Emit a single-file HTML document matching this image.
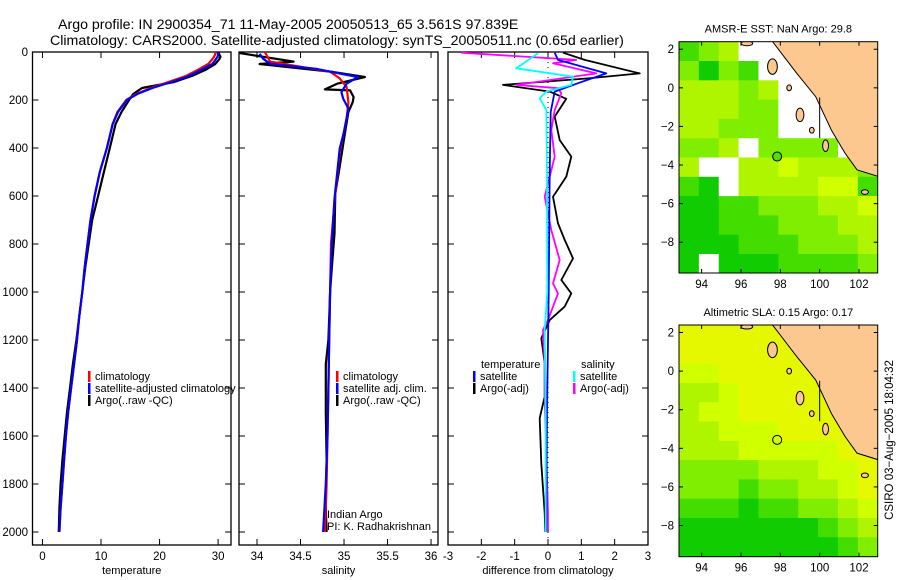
<!DOCTYPE html>
<html><head><meta charset="utf-8"><style>
html,body{margin:0;padding:0;background:#fff;}
svg{display:block;font-family:"Liberation Sans",sans-serif;}
</style></head><body>
<svg id="chart" width="900" height="580" viewBox="0 0 900 580" xmlns="http://www.w3.org/2000/svg">
<text x="58" y="29" font-size="14.2">Argo profile: IN 2900354_71 11-May-2005 20050513_65 3.561S 97.839E</text>
<text x="50" y="45" font-size="14.2">Climatology: CARS2000. Satellite-adjusted climatology: synTS_20050511.nc (0.65d earlier)</text>
<g id="g"></g>
</svg>
<script>
// ---- temperature panel data ----
const tDepth=[0,10,20,30,50,75,100,125,150,175,200,250,300,400,500,600,700,800,900,1000,1100,1200,1300,1400,1500,1600,1700,1800,1900,2000];
const tClim=[29.5,29.5,29.3,29,28.3,26.5,24.5,21.5,18.5,16,14.3,12.8,12,11,9.8,8.9,8.2,7.7,7.2,6.8,6.3,5.9,5.4,4.9,4.4,4,3.7,3.4,3.1,2.9];
const tSat=[29.9,30,29.9,29.6,29,27,25,22,18.8,16.2,14.4,12.9,12,11,9.8,8.9,8.2,7.7,7.2,6.8,6.3,5.9,5.4,4.9,4.4,4,3.7,3.4,3.1,2.9];
const tArgo=[30,30.2,30.4,30.2,29.5,27.8,25.5,22.5,17,15.5,14.8,13.5,12.5,11.5,10.5,9.5,8.5,7.9,7.3,6.8,6.3,5.8,5.2,4.7,4.2,3.8,3.4,3.1,2.9,2.8];
// ---- salinity panel data ----
const sClimDepth=[0,40,61,82,110,146,209,278,417,625,800,1000,1200,1400,1600,1800,2000];
const sClim=[34.09,34.15,34.49,34.84,34.95,35.03,35.05,35.03,34.95,34.89,34.85,34.84,34.83,34.82,34.81,34.8,34.78];
const sSatDepth=[7,28,49,70,90,104,132,167,194,236,333,403,611,800,1000,1200,1400,1600,1800,2000];
const sSat=[34.03,34.07,34.15,34.68,34.95,35.16,35.03,34.97,34.99,35.05,35.0,34.95,34.89,34.86,34.84,34.83,34.82,34.81,34.79,34.76];
const sArgoDepth=[0,5,40,50,83,104,132,156,160,188,209,250,339,478,589,756,900,1000,1200,1300,1500,1700,1900,2000];
const sArgo=[33.8,33.81,34.42,34.03,34.87,35.24,34.92,34.78,35.07,35.11,35.1,35.05,35.01,34.95,34.9,34.89,34.86,34.84,34.82,34.79,34.79,34.8,34.79,34.8];
// ---- difference panel data ----
const dTArgoDepth=[3,33,89,110,137,165,195,269,367,436,519,603,714,783,860,950,1006,1061,1117,1193,1297,1436,1526,1714,1922,2000];
const dTArgo=[0.45,1.1,2.75,1.2,-1.35,0.05,0.55,0.2,0.35,0.7,0.55,0.15,0.3,0.5,0.75,0.4,0.7,0.5,0.05,-0.2,-0.1,-0.1,-0.25,-0.2,-0.1,-0.08];
const dTSatDepth=[3,33,89,130,165,250,500,1000,1500,2000];
const dTSat=[0.2,0.3,1.75,0.9,0.2,0.08,0.05,0.02,-0.03,-0.05];
const dSSatDepth=[5,68,103,137,165,193,242,500,1000,1158,1500,2000];
const dSSat=[-0.3,-0.95,0.75,0.7,-0.05,-0.25,-0.05,-0.03,-0.02,-0.1,-0.07,-0.07];
const dSArgoDepth=[3,33,47,89,137,151,172,242,325,436,603,742,867,964,1006,1117,1158,1297,1436,1922,2000];
const dSArgo=[-2.6,0.85,0.15,1.45,-0.95,0.3,0.4,0.2,0.1,0.2,-0.1,0.1,0.35,0.15,0.3,0.0,-0.15,-0.1,-0.1,0.0,0.0];
// ---- maps (1-degree cells, rows from lat 2.4 down, cols from lon 92.85) 0 = no data ----
const sstGrid=["2340000000","3132000000","4443400000","4443300000","4433300000","3340333300","4004454443","2104444552","1122333445","1122233344","1112223334","1011122223"];
const slaGrid=["6666665433","6666666543","5566666543","4456666654","4556666665","4455566666","4445555566","3333444556","3332334456","2221223345","1111111234","1111111123"];
const palette=["#ffffff","#10cc00","#44dd00","#80ee00","#b0f500","#d0ff00","#e6f800"];
const landLon=[97.6,98.2,98.8,99.8,100.6,101.3,101.9,103,103];
const landLat=[2.4,1.6,0.8,-0.46,-2.2,-3.4,-4.25,-4.6,2.4];
const isles=[[96.3,2.3,0.3,0.12],[97.6,1.1,0.25,0.4],[98.45,0.0,0.12,0.15],[99.0,-1.4,0.2,0.35],[99.6,-2.2,0.12,0.15],[100.3,-3.0,0.15,0.3],[102.3,-5.4,0.18,0.12]];
const lonTicks=[94,96,98,100,102];
const latTicks=[2,0,-2,-4,-6,-8];

const NS="http://www.w3.org/2000/svg";
const G=document.getElementById('g');
function mk(tag,a,p){const e=document.createElementNS(NS,tag);for(const k in a)e.setAttribute(k,a[k]);(p||G).appendChild(e);return e;}

const yTop=52, yPx=0.24;
const yS=d=>yTop+d*yPx;
function panel(x0,x1,xmin,xmax,ticks,labelFmt,xlabel,name,showY){
  const xs=v=>x0+(v-xmin)/(xmax-xmin)*(x1-x0);
  const r=mk('rect',{x:x0,y:52,width:x1-x0,height:493,fill:'none',stroke:'#000','stroke-width':1.3});
  
  
  ticks.forEach(v=>{
    const X=xs(v);
    const t1=mk('line',{x1:X,y1:545,x2:X,y2:539,stroke:'#000'});
    
    
    const t2=mk('line',{x1:X,y1:52,x2:X,y2:58,stroke:'#000'});
    
    
    const tl=mk('text',{x:X,y:560,'font-size':11.5,'text-anchor':'middle'});
    tl.textContent=labelFmt(v);
    
    
  });
  for(let d=0;d<=2000;d+=200){
    const Y=yS(d);
    const a=mk('line',{x1:x0,y1:Y,x2:x0+6,y2:Y,stroke:'#000'});
    
    
    const b=mk('line',{x1:x1,y1:Y,x2:x1-6,y2:Y,stroke:'#000'});
    
    
    if(showY){
      const l=mk('text',{x:28,y:Y+4,'font-size':11.5,'text-anchor':'end'});
      l.textContent=d;
      
      
    }
  }
  const xl=mk('text',{x:(x0+x1)/2,y:574,'font-size':11,'text-anchor':'middle'});
  xl.textContent=xlabel;
  
  
  return xs;
}
function line(xs,depths,vals,color,name,w){
  const pts=depths.map((d,i)=>xs(vals[i]).toFixed(1)+','+yS(d).toFixed(1)).join(' ');
  const p=mk('polyline',{points:pts,fill:'none',stroke:color,'stroke-width':w||2.2,'stroke-linejoin':'round'});
  
  
}
function legend(x,y,color,label,name){
  if(color){const m=mk('rect',{x:x,y:y-9,width:2.5,height:11,fill:color});
  
  }
  const t=mk('text',{x:x+7,y:y,'font-size':11});
  t.textContent=label;
  
  
}

// Temperature
const xT=panel(32.5,231,-1.7,32.2,[0,10,20,30],v=>v,'temperature','temperature-panel',true);
line(xT,tDepth,tArgo,'#000','temperature-argo-line');
line(xT,tDepth,tClim,'#f00','temperature-climatology-line');
line(xT,tDepth,tSat,'#00f','temperature-satellite-line');
legend(88,380,'#f00','climatology','temp-legend-climatology');
legend(88,392,'#00f','satellite-adjusted climatology','temp-legend-satellite');
legend(88,404,'#000','Argo(..raw -QC)','temp-legend-argo');

// Salinity
const xS=panel(239,438,33.793,36.08,[34,34.5,35,35.5,36],v=>v,'salinity','salinity-panel',false);
line(xS,sArgoDepth,sArgo,'#000','salinity-argo-line');
line(xS,sClimDepth,sClim,'#f00','salinity-climatology-line');
line(xS,sSatDepth,sSat,'#00f','salinity-satellite-line');
legend(336,380,'#f00','climatology','sal-legend-climatology');
legend(336,392,'#00f','satellite adj. clim.','sal-legend-satellite');
legend(336,404,'#000','Argo(..raw -QC)','sal-legend-argo');
const ia=mk('text',{x:327,y:518,'font-size':11});ia.textContent='Indian Argo';


const pi=mk('text',{x:327,y:530,'font-size':11});pi.textContent='PI: K. Radhakrishnan';



// Difference
const xD=panel(448,648,-3,3,[-3,-2,-1,0,1,2,3],v=>v,'difference from climatology','difference-panel',false);
const zl=mk('line',{x1:xD(0),y1:52,x2:xD(0),y2:545,stroke:'#000','stroke-dasharray':'1,4'});


line(xD,dTArgoDepth,dTArgo,'#000','diff-temperature-argo-line',1.8);
line(xD,dSArgoDepth,dSArgo,'#f0f','diff-salinity-argo-line',1.8);
line(xD,dTSatDepth,dTSat,'#00f','diff-temperature-satellite-line',1.8);
line(xD,dSSatDepth,dSSat,'#0ff','diff-salinity-satellite-line',1.8);
legend(474,368,null,'temperature','diff-legend-temperature-heading');
legend(473,380,'#00f','satellite','diff-legend-temp-satellite');
legend(473,392,'#000','Argo(-adj)','diff-legend-temp-argo');
legend(574,368,null,'salinity','diff-legend-salinity-heading');
legend(573,380,'#0ff','satellite','diff-legend-sal-satellite');
legend(573,392,'#f0f','Argo(-adj)','diff-legend-sal-argo');

// Maps
function map(top,bottom,grid,title,name){
  const x0=679,x1=877.7,lonMin=92.85,lonMax=102.95;
  const mx=lo=>x0+(lo-lonMin)/(lonMax-lonMin)*(x1-x0);
  const my=la=>top+(2.39-la)*19.3;
  const clip=mk('clipPath',{id:name+'-clip'});
  mk('rect',{x:x0,y:top,width:x1-x0,height:bottom-top},clip);
  const g=mk('g',{'clip-path':'url(#'+name+'-clip)'});
  
  
  grid.forEach((row,r)=>{
    for(let c=0;c<row.length;c++){
      const v=+row[c];
      const lo=lonMin+c*1.01, la=2.39-r;
      const cell=mk('rect',{x:mx(lo),y:my(la),width:mx(lo+1.01)-mx(lo)+0.5,height:19.8,fill:palette[v]},g);
      
      
    }
  });
  const land=mk('polygon',{points:landLon.map((lo,i)=>mx(lo)+','+my(landLat[i])).join(' '),fill:'#fcc890',stroke:'#000','stroke-width':1},g);
  
  
  isles.forEach(s=>{
    const e=mk('ellipse',{cx:mx(s[0]),cy:my(s[1]),rx:s[2]*19.6,ry:s[3]*19.3,fill:'#fcc890',stroke:'#000'},g);
    
    
  });
  const vl=mk('line',{x1:mx(100),y1:my(-0.5),x2:mx(100),y2:my(-2.6),stroke:'#000'},g);
  
  
  const fr=mk('rect',{x:x0,y:top,width:x1-x0,height:bottom-top,fill:'none',stroke:'#000'});
  
  
  const fl=mk('circle',{cx:mx(97.84),cy:my(-3.56),r:4.5,fill:name==='sst-map'?'#55dd00':'none',stroke:'#000'});
  
  
  lonTicks.forEach(lo=>{
    const X=mx(lo);
    const a=mk('line',{x1:X,y1:bottom,x2:X,y2:bottom-4,stroke:'#000'});
    
    
    const b=mk('line',{x1:X,y1:top,x2:X,y2:top+4,stroke:'#000'});
    
    
    const t=mk('text',{x:X,y:bottom+15,'font-size':11.5,'text-anchor':'middle'});
    t.textContent=lo;
    
    
  });
  latTicks.forEach(la=>{
    const Y=my(la);
    const a=mk('line',{x1:x0,y1:Y,x2:x0+4,y2:Y,stroke:'#000'});
    
    
    const b=mk('line',{x1:x1,y1:Y,x2:x1-4,y2:Y,stroke:'#000'});
    
    
    const t=mk('text',{x:x0-5,y:Y+4,'font-size':11.5,'text-anchor':'end'});
    t.textContent=la===0?'0':(la<0?'\u2212'+(-la):la);
    
    
  });
  const tt=mk('text',{x:(x0+x1)/2,y:top-9,'font-size':11,'text-anchor':'middle'});
  tt.textContent=title;
  
  
}
map(41.7,273,sstGrid,'AMSR-E SST: NaN Argo: 29.8','sst-map');
map(325,556.7,slaGrid,'Altimetric SLA: 0.15 Argo: 0.17','sla-map');
const cs=mk('text',{x:0,y:0,'font-size':11.5,'text-anchor':'middle',transform:'translate(893,440) rotate(-90)'});
cs.textContent='CSIRO 03\u2212Aug\u22122005 18:04:32';


</script>
</body></html>
